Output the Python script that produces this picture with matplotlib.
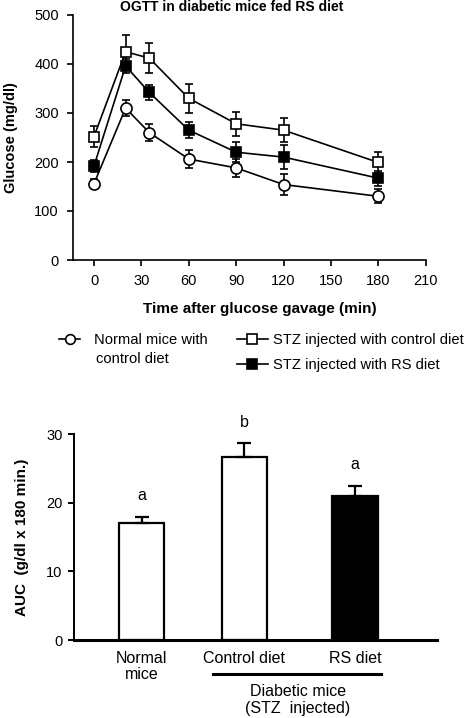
import numpy as np
import matplotlib
matplotlib.use('Agg')
from matplotlib import pyplot as plt
from matplotlib.lines import Line2D
import matplotlib.transforms as mtransforms

plt.rcParams['font.family'] = ['Liberation Sans', 'DejaVu Sans']

# OGTT time course
times = [0, 20, 35, 60, 90, 120, 180]
normal_mean = [156, 310, 260, 206, 188, 154, 130]
normal_err = [10, 17, 17, 18, 18, 22, 14]
stz_ctrl_mean = [252, 425, 412, 330, 278, 265, 199]
stz_ctrl_err = [22, 35, 30, 30, 25, 25, 22]
stz_rs_mean = [192, 396, 342, 265, 220, 210, 167]
stz_rs_err = [13, 15, 15, 17, 20, 25, 15]

# AUC bars
groups = ["Normal\nmice", "Control diet", "RS diet"]
group_pos = [1.0, 2.0, 3.075]
auc_mean = [17.0, 26.7, 21.0]
auc_err = [1.0, 2.0, 1.5]
auc_letters = ["a", "b", "a"]
bar_colors = ["white", "white", "black"]

W, H = 474, 718
fig = plt.figure(figsize=(W / 100, H / 100), dpi=100)

# ---------- top: OGTT ----------
ax1 = fig.add_axes([72.7 / W, 1 - 260 / H, (425.7 - 72.7) / W, (260 - 15) / H])
common = dict(color='black', lw=1.2, elinewidth=1.2, capsize=3, capthick=1.2, mec='black', mew=1.2)
ax1.errorbar(times, stz_ctrl_mean, yerr=stz_ctrl_err, fmt='-s', ms=6.5, mfc='white', zorder=3, **common)
ax1.errorbar(times, stz_rs_mean, yerr=stz_rs_err, fmt='-s', ms=6.5, mfc='black', zorder=4, **common)
ax1.errorbar(times, normal_mean, yerr=normal_err, fmt='-o', ms=8, mfc='white', zorder=5, **common)

ax1.set_xlim(-13.5, 210)
ax1.set_ylim(0, 500)
ax1.set_xticks(np.arange(0, 211, 30))
ax1.set_yticks(np.arange(0, 501, 100))
for s in ['top', 'right']:
    ax1.spines[s].set_visible(False)
for s in ['left', 'bottom']:
    ax1.spines[s].set_linewidth(1.2)
ax1.tick_params(direction='out', length=4, width=1.2, labelsize=10.5, pad=6)
ax1.set_title("OGTT in diabetic mice fed RS diet", fontsize=10, fontweight='bold', pad=3, x=0.45)
ax1.set_ylabel("Glucose (mg/dl)", fontsize=10.5, fontweight='bold', labelpad=12)
ax1.set_xlabel("Time after glucose gavage (min)", fontsize=11, fontweight='bold', labelpad=10, x=0.53)

h_normal = Line2D([], [], color='black', lw=1.2, marker='o', ms=7, mfc='white', mec='black', mew=1.2)
h_ctrl = Line2D([], [], color='black', lw=1.2, marker='s', ms=6.5, mfc='white', mec='black', mew=1.2)
h_rs = Line2D([], [], color='black', lw=1.2, marker='s', ms=6.5, mfc='black', mec='black', mew=1.2)

leg_kw = dict(frameon=False, fontsize=10.6, borderpad=0, borderaxespad=0,
              loc='upper left', labelspacing=0.75)
leg1 = fig.legend([h_normal], ["Normal mice with"], bbox_to_anchor=(59 / W, 1 - 333 / H),
                  handlelength=1.45, handletextpad=0.95, **leg_kw)
fig.text(95.7 / W, 1 - 359 / H, "control diet", fontsize=10.6, va='center', ha='left')
leg2 = fig.legend([h_ctrl, h_rs], ["STZ injected with control diet", "STZ injected with RS diet"],
                  bbox_to_anchor=(237 / W, 1 - 333 / H), handlelength=2.1, handletextpad=0.35, **leg_kw)

# ---------- bottom: AUC ----------
ax2 = fig.add_axes([73.5 / W, 1 - 640 / H, (436.7 - 73.5) / W, (640 - 434.3) / H])
ax2.bar(group_pos, auc_mean, width=0.44, color=bar_colors, edgecolor='black', linewidth=1.6, zorder=2)
ax2.errorbar(group_pos, auc_mean, yerr=[[0, 0, 0], auc_err], fmt='none', ecolor='black',
             elinewidth=1.6, capsize=5, capthick=1.6, zorder=3)
for x, m, e, t in zip(group_pos, auc_mean, auc_err, auc_letters):
    ax2.text(x, m + e + 2.0, t, ha='center', va='bottom', fontsize=11.5, clip_on=False)

ax2.set_xlim(0.337, 3.87)
ax2.set_ylim(0, 30)
ax2.set_yticks([0, 10, 20, 30])
ax2.set_xticks(group_pos)
ax2.set_xticklabels(groups, fontsize=11.5, linespacing=1.1)
ax2.tick_params(axis='x', length=0, pad=8)
ax2.tick_params(axis='y', direction='out', length=4, width=1.4, labelsize=10.5, pad=4)
for s in ['top', 'right']:
    ax2.spines[s].set_visible(False)
ax2.spines['left'].set_linewidth(1.4)
ax2.spines['bottom'].set_linewidth(2.2)
ax2.set_ylabel("AUC  (g/dl x 180 min.)", fontsize=11, fontweight='bold', labelpad=12)

trans = mtransforms.blended_transform_factory(ax2.transData, ax2.transAxes)
ax2.plot([1.69, 3.33], [-0.165, -0.165], color='black', lw=2.2, transform=trans, clip_on=False)
ax2.text(2.52, -0.292, "Diabetic mice\n(STZ  injected)", transform=trans, ha='center', va='center',
         fontsize=11.5, linespacing=1.15)

fig.savefig("out.png", dpi=100)
